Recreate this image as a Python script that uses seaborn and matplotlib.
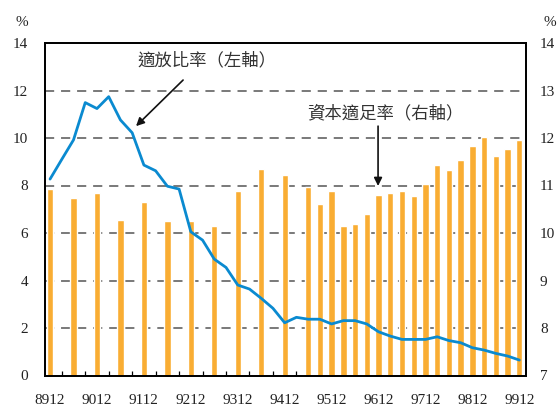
import numpy as np
import pandas as pd
import matplotlib
matplotlib.use("Agg")
import matplotlib.pyplot as plt
import seaborn as sns

# ---- data ----
quarters = ["8912", "9003", "9006", "9009", "9012", "9103", "9106", "9109", "9112", "9203",
            "9206", "9209", "9212", "9303", "9306", "9309", "9312", "9403", "9406", "9409",
            "9412", "9503", "9506", "9509", "9512", "9603", "9606", "9609", "9612", "9703",
            "9706", "9709", "9712", "9803", "9806", "9809", "9812", "9903", "9906", "9909",
            "9912"]
overdue_ratio = [8.27, 9.1, 9.92, 11.49, 11.24, 11.74, 10.76, 10.22, 8.86, 8.62,
                 7.97, 7.85, 6.05, 5.7, 4.9, 4.55, 3.81, 3.64, 3.25, 2.83,
                 2.22, 2.45, 2.37, 2.37, 2.17, 2.31, 2.31, 2.17, 1.84, 1.66,
                 1.52, 1.52, 1.52, 1.63, 1.47, 1.38, 1.17, 1.07, 0.93, 0.82,
                 0.65]
bar_quarters = ["8912", "9006", "9012", "9106", "9112", "9206", "9212", "9306", "9312", "9406",
                "9412", "9506", "9509", "9512", "9603", "9606", "9609", "9612", "9703", "9706",
                "9709", "9712", "9803", "9806", "9809", "9812", "9903", "9906", "9909", "9912"]
capital_ratio = [10.92, 10.74, 10.84, 10.27, 10.65, 10.25, 10.26, 10.15, 10.88, 11.35,
                 11.22, 10.97, 10.61, 10.88, 10.15, 10.19, 10.40, 10.80, 10.84, 10.88,
                 10.78, 11.03, 11.43, 11.33, 11.54, 11.83, 12.02, 11.62, 11.77, 11.96]
tick_labels = ["8912", "9012", "9112", "9212", "9312", "9412", "9512", "9612", "9712", "9812", "9912"]

left_label = "適放比率（左軸）"
right_label = "資本適足率（右軸）"

# ---- style ----
sns.set_theme(style="white")
serif = ["Liberation Serif", "DejaVu Serif"]
cjk = ["Noto Sans CJK TC", "DejaVu Sans"]
plt.rcParams["font.family"] = serif

BLUE = "#0a8ad0"
ORANGE = "#f9ad33"
GRID = "#555555"
TXT = "#222222"

pos = {q: i for i, q in enumerate(quarters)}
line_df = pd.DataFrame({"x": [pos[q] for q in quarters], "y": overdue_ratio})
bar_df = pd.DataFrame({"x": [pos[q] for q in bar_quarters], "y": capital_ratio})

fig = plt.figure(figsize=(5.59, 4.05), dpi=100)
ax = fig.add_axes([45 / 559, 1 - 375.5 / 405, (526 - 45) / 559, (375.5 - 43) / 405])

# bars on right-axis scale (7-14)
ax.set_ylim(7, 14)
for v in [8, 9, 10, 11, 12, 13]:
    ax.axhline(v, color=GRID, lw=1.1, ls=(0, (6, 4.5)), zorder=0)
sns.barplot(data=bar_df, x="x", y="y", native_scale=True, color=ORANGE,
            width=0.54, saturation=1, ax=ax, zorder=2)
ax.set_ylabel("")
ax.set_xlabel("")

ax2 = ax.twinx()
ax2.set_ylim(0, 14)
sns.lineplot(data=line_df, x="x", y="y", color=BLUE, lw=2.0, ax=ax2, zorder=3)
ax2.set_ylabel("")
ax2.set_xlabel("")

# bar axis -> right, line axis -> left
ax.yaxis.tick_right()
ax.yaxis.set_label_position("right")
ax2.yaxis.tick_left()
ax2.yaxis.set_label_position("left")
ax.set_yticks(range(7, 15))
ax2.set_yticks(range(0, 15, 2))

xmin, xmax = -0.43, 40.57
ax.set_xlim(xmin, xmax)
ax2.set_xlim(xmin, xmax)

ax.set_xticks(range(len(quarters)))
ax.set_xticklabels([q if q in tick_labels else "" for q in quarters])

for a in (ax, ax2):
    for s in a.spines.values():
        s.set_color("black")
        s.set_linewidth(1.3)
ax.tick_params(axis="x", direction="in", length=3.5, width=0.9, color="black",
               pad=13, labelsize=11, bottom=True, labelcolor=TXT)
ax.tick_params(axis="y", length=0, pad=10, labelsize=11, labelcolor=TXT,
               left=False, labelleft=False, right=False, labelright=True)
ax2.tick_params(axis="y", length=0, pad=12, labelsize=11, labelcolor=TXT,
                left=False, labelleft=True, right=False, labelright=False)

# percent signs
fig.text(22 / 559, 1 - 22 / 405, "%", ha="center", va="center", fontsize=11, color=TXT)
fig.text(550 / 559, 1 - 22 / 405, "%", ha="center", va="center", fontsize=11, color=TXT)

# annotations (left axis coordinates)
ax2.annotate("", xy=(7.33, 10.5), xytext=(11.34, 12.44),
             arrowprops=dict(arrowstyle="-|>", color="#111111", lw=1.2,
                             mutation_scale=12, shrinkA=0, shrinkB=0), zorder=5)
ax2.text(13.4, 13.28, left_label, ha="center", va="center", fontsize=12.5,
         family=cjk, color="#333333", zorder=5)
ax2.annotate("", xy=(27.96, 7.98), xytext=(27.96, 10.5),
             arrowprops=dict(arrowstyle="-|>", color="#111111", lw=1.2,
                             mutation_scale=12, shrinkA=0, shrinkB=0), zorder=5)
ax2.text(28.6, 11.05, right_label, ha="center", va="center", fontsize=12.5,
         family=cjk, color="#333333", zorder=5)

fig.savefig("out.png", dpi=100)
